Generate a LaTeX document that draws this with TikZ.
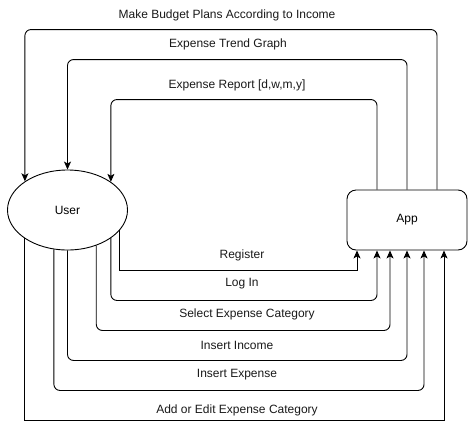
\documentclass[tikz,border=0pt]{standalone}
\usepackage{fontspec}
\setmainfont{Liberation Sans}
\usetikzlibrary{arrows.meta,shapes.geometric,calc}
\begin{document}
\begin{tikzpicture}[x=1pt,y=-1pt,
  every node/.style={font=\fontsize{12}{14}\selectfont},
  arr/.style={draw=black,line width=0.9pt,-{Stealth[length=8pt,width=7pt,inset=2pt]}},
  rc/.style={rounded corners=6pt},
  lbl/.style={inner sep=0pt,text=black!90}]
\useasboundingbox (0,0) rectangle (468,429);
\node[ellipse,draw,line width=0.9pt,minimum width=120pt,minimum height=80pt,inner sep=0pt] (User) at (67.5,210) {User};
\node[rectangle,draw,line width=0.9pt,rounded corners=9pt,minimum width=120pt,minimum height=60pt,inner sep=0pt] (App) at (407,220) {App};
% top connectors (App -> User)
\draw[arr,rc] ([xshift=30pt]App.north) -- ++(0,-160) -| (User.146.4);
\draw[arr,rc] (App.north) -- ++(0,-130) -| (User.north);
\draw[arr,rc] ([xshift=-30pt]App.north) -- ++(0,-90) -| (User.33.6);
% bottom connectors (User -> App)
\draw[arr] (User.-21.7) |- ($(App.south)+(-50,20)$) -- ([xshift=-50pt]App.south);
\draw[arr,rc] (User.-33.6) |- ($(App.south)+(-30,50)$) -- ([xshift=-30pt]App.south);
\draw[arr,rc] (User.-51.4) |- ($(App.south)+(-17,80)$) -- ([xshift=-17pt]App.south);
\draw[arr,rc] (User.south) |- ($(App.south)+(0,110)$) -- (App.south);
\draw[arr,rc] (User.251.3) |- ($(App.south)+(17,140)$) -- ([xshift=17pt]App.south);
\draw[arr] (User.213.6) |- ($(App.south)+(37,170)$) -- ([xshift=37pt]App.south);
% labels
\node[lbl] (l1) at (227,15) {Make Budget Plans According to Income};
\node[lbl] (l2) at (228,44) {Expense Trend Graph};
\node[lbl] (l3) at (237,85) {Expense Report [d,w,m,y]};
\node[lbl] (l4) at (242,255) {Register};
\node[lbl] (l5) at (242,284) {Log In};
\node[lbl] (l6) at (247,314) {Select Expense Category};
\node[lbl] (l7) at (237,345) {Insert Income};
\node[lbl] (l8) at (237,375) {Insert Expense};
\node[lbl] (l9) at (237,410) {Add or Edit Expense Category};
\end{tikzpicture}
\end{document}
